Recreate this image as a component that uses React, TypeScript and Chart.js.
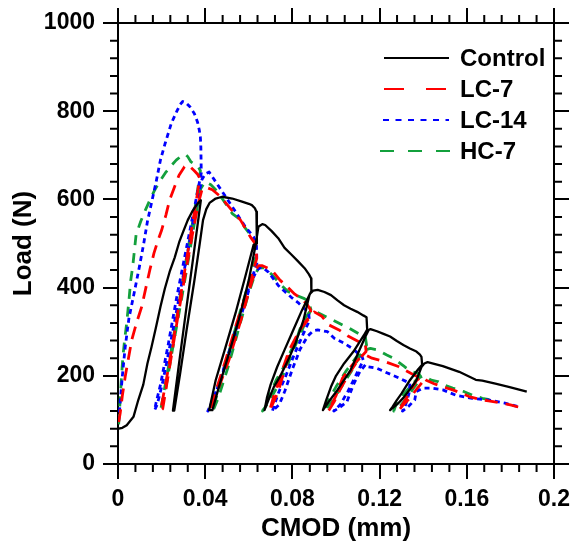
import React, { useEffect, useRef } from "react";
import { Chart, registerables } from "chart.js";

Chart.register(...registerables);

const FONT = "'Liberation Sans', Arial, Helvetica, sans-serif";

const seriesNames = ["Control", "LC-7", "LC-14", "HC-7"];
const seriesColors = ["#000000", "#ff0000", "#0000ff", "#13a03c"];
const xTickLabels = ["0", "0.04", "0.08", "0.12", "0.16", "0.2"];
const yTickLabels = ["0", "200", "400", "600", "800", "1000"];

// Control (solid black)
const controlCmod = [
  0.0003, 0.002, 0.004, 0.0071, 0.0093, 0.0116, 0.0135, 0.0154, 0.0175, 0.0195, 0.0215, 0.0237, 0.026, 0.0282, 0.03, 0.032, 0.034, 0.0357, 0.0373, 0.038,
  0.0345, 0.031, 0.028, 0.0252,
  0.0258, 0.0285, 0.0315, 0.035, 0.0375, 0.039, 0.0405, 0.042, 0.0448, 0.0478, 0.0524, 0.0569, 0.06, 0.0614, 0.0628, 0.0635, 0.0637,
  0.0622, 0.0584, 0.0539, 0.0494, 0.0448, 0.0426, 0.0418,
  0.0433, 0.0463, 0.0509, 0.0554, 0.06, 0.063, 0.0644, 0.0662, 0.0675, 0.0705, 0.0735, 0.0764, 0.0795, 0.0825, 0.0856, 0.0876, 0.0886, 0.0887,
  0.0845, 0.0805, 0.0765, 0.073, 0.07, 0.0683, 0.0672,
  0.069, 0.0715, 0.0745, 0.078, 0.0815, 0.085, 0.0879, 0.0895, 0.0916, 0.0947, 0.0977, 0.1007, 0.1037, 0.1067, 0.1097, 0.1125, 0.114, 0.1143,
  0.1128, 0.108, 0.1037, 0.1, 0.0977, 0.0955, 0.094,
  0.0965, 0.1007, 0.1067, 0.11, 0.1135, 0.115, 0.1158, 0.1188, 0.1218, 0.1248, 0.1279, 0.1309, 0.1339, 0.1369, 0.1385, 0.1392, 0.1395,
  0.1377, 0.1339, 0.1301, 0.1279, 0.126, 0.1248,
  0.128, 0.1309, 0.134, 0.1369, 0.1392, 0.1405, 0.142, 0.149, 0.1565, 0.1641, 0.1671, 0.1731, 0.1792, 0.1875,
];
const controlLoad = [
  80, 82, 88, 107, 145, 180, 228, 266, 312, 357, 398, 436, 468, 505, 528, 553, 572, 585, 595, 598,
  468, 340, 228, 121,
  121, 205, 305, 415, 500, 553, 578, 592, 602, 606, 602, 595, 590, 587, 580, 572, 500,
  497, 425, 342, 266, 190, 140, 122,
  122, 175, 251, 327, 417, 493, 538, 544, 542, 528, 512, 490, 475, 460, 444, 430, 421, 392,
  350, 305, 260, 220, 180, 150, 122,
  145, 175, 200, 235, 275, 325, 385, 393, 395, 390, 383, 371, 360, 352, 345, 337, 333, 305,
  292, 255, 228, 200, 175, 145, 122,
  140, 168, 213, 250, 289, 304, 306, 301, 295, 289, 279, 270, 262, 255, 248, 243, 225,
  215, 190, 160, 145, 130, 122,
  135, 150, 170, 190, 220, 228, 231, 222, 209, 191, 189, 182, 175, 164,
];

// LC-7 (red long dash)
const lc7Cmod = [
  0.0003, 0.001, 0.002, 0.0033, 0.0048, 0.0063, 0.0085, 0.0109, 0.0128, 0.0146, 0.0165, 0.0184, 0.02, 0.022, 0.0237, 0.026, 0.028, 0.0305, 0.032, 0.0335, 0.035, 0.0365, 0.0375,
  0.036, 0.033, 0.0295, 0.026, 0.0225, 0.0195,
  0.0205, 0.024, 0.0275, 0.031, 0.0343, 0.0368, 0.0385, 0.04, 0.0433, 0.0471, 0.0531, 0.0562, 0.0607, 0.0632, 0.0636,
  0.06, 0.0546, 0.0494, 0.0455, 0.042,
  0.0445, 0.0509, 0.056, 0.06, 0.063, 0.0645, 0.066, 0.0705, 0.0743, 0.078, 0.0811, 0.0848, 0.087, 0.0883, 0.0885,
  0.0835, 0.0785, 0.0745, 0.0715, 0.0695,
  0.0735, 0.0765, 0.0795, 0.0848, 0.088, 0.09, 0.0935, 0.0969, 0.1014, 0.1055, 0.1105, 0.1135, 0.1138,
  0.11, 0.106, 0.102, 0.099, 0.0965,
  0.1, 0.103, 0.1075, 0.111, 0.114, 0.1165, 0.1226, 0.1286, 0.1345, 0.1385, 0.1395,
  0.137, 0.134, 0.131, 0.1285,
  0.1309, 0.134, 0.137, 0.1395, 0.1414, 0.145, 0.149, 0.1535, 0.158, 0.161, 0.1656, 0.17, 0.1754, 0.18, 0.1845,
];
const lc7Load = [
  95, 115, 155, 198, 240, 281, 320, 357, 400, 440, 478, 508, 530, 565, 599, 629, 655, 674, 678, 672, 665, 657, 648,
  600, 510, 405, 300, 200, 120,
  125, 230, 335, 435, 525, 590, 622, 628, 622, 606, 570, 553, 515, 498, 465,
  405, 322, 236, 175, 120,
  150, 236, 320, 390, 440, 450, 450, 440, 417, 400, 385, 372, 360, 350, 335,
  305, 258, 200, 155, 120,
  164, 215, 265, 315, 335, 345, 335, 315, 304, 290, 277, 270, 255,
  235, 205, 170, 140, 120,
  155, 195, 225, 240, 246, 240, 232, 221, 205, 195, 185,
  170, 150, 135, 120,
  138, 165, 190, 198, 190, 182, 175, 168, 160, 153, 147, 143, 139, 134, 128,
];

// LC-14 (blue dotted)
const lc14Cmod = [
  0.0003, 0.001, 0.002, 0.0033, 0.005, 0.0075, 0.0098, 0.0118, 0.0135, 0.0155, 0.0175, 0.0195, 0.0215, 0.0245, 0.027, 0.0285, 0.0297, 0.031, 0.033, 0.035, 0.0365, 0.0373, 0.0378, 0.038, 0.0381, 0.0382,
  0.035, 0.031, 0.027, 0.023, 0.0195, 0.0175, 0.0168,
  0.018, 0.0205, 0.0245, 0.0285, 0.0325, 0.036, 0.0385, 0.04, 0.0418, 0.0448, 0.0494, 0.0539, 0.0584, 0.0622, 0.0635, 0.0637,
  0.06, 0.0555, 0.051, 0.0465, 0.0435, 0.0412,
  0.044, 0.048, 0.0525, 0.057, 0.061, 0.0635, 0.065, 0.0665, 0.069, 0.0735, 0.0765, 0.0795, 0.0826, 0.086, 0.0875, 0.0878,
  0.085, 0.081, 0.077, 0.0735, 0.0708,
  0.074, 0.0765, 0.08, 0.0835, 0.087, 0.0895, 0.0916, 0.0961, 0.0992, 0.1037, 0.1075, 0.112, 0.1125,
  0.109, 0.1055, 0.102, 0.099,
  0.1022, 0.105, 0.108, 0.111, 0.1135, 0.1143, 0.1188, 0.1233, 0.1294, 0.1339,
  0.1335, 0.132, 0.1305,
  0.1331, 0.1361, 0.1368, 0.1398, 0.1437, 0.149, 0.155, 0.1625, 0.1701, 0.1775, 0.1837,
];
const lc14Load = [
  97, 140, 200, 265, 330, 390, 447, 500, 550, 595, 640, 690, 725, 773, 800, 815, 822, 820, 810, 795, 775, 757, 740, 720, 690, 660,
  580, 480, 380, 270, 180, 140, 122,
  135, 185, 285, 390, 495, 590, 645, 658, 662, 640, 606, 572, 538, 515, 500, 455,
  400, 330, 255, 185, 145, 120,
  150, 205, 275, 345, 410, 438, 445, 445, 435, 405, 391, 378, 366, 350, 340, 325,
  295, 250, 200, 160, 120,
  135, 165, 215, 260, 290, 302, 304, 300, 285, 274, 262, 243, 235,
  200, 165, 135, 120,
  130, 141, 180, 210, 225, 221, 217, 207, 194, 183,
  160, 135, 120,
  130, 145, 164, 172, 172, 168, 156, 149, 145, 138, 130,
];

// HC-7 (green dash)
const hc7Cmod = [
  0.0003, 0.0008, 0.0015, 0.0022, 0.003, 0.004, 0.005, 0.0058, 0.0068, 0.0083, 0.0104, 0.0125, 0.0146, 0.0167, 0.0192, 0.0217, 0.0245, 0.0267, 0.0297, 0.0312, 0.032, 0.0335, 0.035, 0.0365, 0.0378,
  0.035, 0.0315, 0.0275, 0.0235, 0.0195,
  0.0215, 0.025, 0.029, 0.0325, 0.0355, 0.038, 0.04, 0.0426, 0.0456, 0.0524, 0.0554, 0.0584, 0.0614, 0.063, 0.0635,
  0.0605, 0.056, 0.0515, 0.047, 0.0435,
  0.046, 0.0505, 0.055, 0.0595, 0.0625, 0.0645, 0.067, 0.0705, 0.075, 0.078, 0.082, 0.0855, 0.0875, 0.0885,
  0.085, 0.081, 0.077, 0.0725, 0.069, 0.0663,
  0.069, 0.0725, 0.0765, 0.0788, 0.0818, 0.0833, 0.0863, 0.0879, 0.0909, 0.0954, 0.0984, 0.103, 0.106, 0.1112, 0.1135, 0.114,
  0.111, 0.107, 0.1025, 0.098, 0.0945,
  0.0961, 0.1, 0.1045, 0.109, 0.113, 0.1158, 0.1188, 0.1233, 0.1263, 0.1316, 0.1346, 0.138, 0.1392,
  0.136, 0.1325, 0.1295, 0.1265,
  0.1279, 0.1301, 0.134, 0.137, 0.1399, 0.1437, 0.1467, 0.149, 0.1535, 0.1588, 0.1626, 0.1671, 0.1716,
];
const hc7Load = [
  90, 130, 190, 240, 280, 320, 370, 415, 450, 520, 550, 575, 598, 620, 641, 660, 677, 689, 701, 701, 697, 685, 680, 677, 665,
  570, 470, 350, 230, 120,
  160, 260, 370, 470, 560, 625, 640, 633, 618, 568, 557, 535, 515, 500, 475,
  420, 345, 265, 190, 120,
  150, 220, 300, 380, 425, 445, 445, 430, 405, 391, 382, 375, 368, 350,
  310, 265, 215, 170, 140, 120,
  150, 190, 224, 251, 281, 304, 334, 345, 345, 334, 327, 315, 308, 293, 287, 270,
  245, 210, 175, 140, 120,
  141, 175, 210, 240, 258, 262, 259, 247, 240, 220, 210, 205, 195,
  175, 150, 132, 120,
  140, 153, 175, 192, 200, 190, 187, 180, 172, 164, 156, 149, 145,
];

const plotDashes: number[][] = [[], [13, 8], [5, 4], [10, 8]];
const plotWidths = [2.3, 2.8, 2.8, 2.8];
const legendDashes: number[][] = [[], [20, 22], [6, 6.5], [14, 14]];

function toPoints(xs: number[], ys: number[]) {
  return xs.map((x, i) => ({ x, y: ys[i] }));
}

const minorTicksAndLegend = {
  id: "minorTicksAndLegend",
  afterDraw(chart: any) {
    const { ctx, chartArea: a, scales } = chart;
    ctx.save();
    ctx.strokeStyle = "#000";
    ctx.lineWidth = 2;
    ctx.setLineDash([]);
    ctx.beginPath();
    for (let i = 1; i < 25; i++) {
      if (i % 5 === 0) continue;
      const px = scales.x.getPixelForValue(i * 0.008);
      ctx.moveTo(px, a.bottom);
      ctx.lineTo(px, a.bottom + 8);
      ctx.moveTo(px, a.top);
      ctx.lineTo(px, a.top - 8);
      const py = scales.y.getPixelForValue(i * 40);
      ctx.moveTo(a.left, py);
      ctx.lineTo(a.left - 8, py);
      ctx.moveTo(a.right, py);
      ctx.lineTo(a.right + 8, py);
    }
    ctx.stroke();

    // legend
    const rows = [58, 89, 120, 151];
    const starts = [384, 384, 383, 380];
    const ends = [449, 449, 449, 450];
    ctx.font = `bold 24px ${FONT}`;
    ctx.textBaseline = "middle";
    ctx.textAlign = "left";
    for (let i = 0; i < seriesNames.length; i++) {
      ctx.beginPath();
      ctx.strokeStyle = seriesColors[i];
      ctx.lineWidth = 2;
      ctx.setLineDash(legendDashes[i]);
      ctx.moveTo(starts[i], rows[i]);
      ctx.lineTo(ends[i], rows[i]);
      ctx.stroke();
      ctx.setLineDash([]);
      ctx.fillStyle = "#000";
      ctx.fillText(seriesNames[i], 460, rows[i] + 1);
    }
    ctx.restore();
  },
};

export default function App() {
  const ref = useRef<HTMLCanvasElement | null>(null);

  useEffect(() => {
    if (!ref.current) return;
    const data = [
      toPoints(controlCmod, controlLoad),
      toPoints(lc7Cmod, lc7Load),
      toPoints(lc14Cmod, lc14Load),
      toPoints(hc7Cmod, hc7Load),
    ];
    const tickFont = { family: FONT, size: 23, weight: "bold" as const };
    const titleFont = { family: FONT, size: 26, weight: "bold" as const };
    const grid = {
      display: true,
      drawOnChartArea: false,
      drawTicks: true,
      tickLength: 15,
      tickWidth: 2,
      tickColor: "#000",
      color: "#000",
      lineWidth: 2,
    };
    const border = { display: true, width: 2, color: "#000" };
    const chart = new Chart(ref.current, {
      type: "scatter",
      data: {
        datasets: data.map((d, i) => ({
          label: seriesNames[i],
          data: d,
          showLine: true,
          borderColor: seriesColors[i],
          backgroundColor: seriesColors[i],
          borderWidth: plotWidths[i],
          borderDash: plotDashes[i],
          borderJoinStyle: "round" as const,
          pointRadius: 0,
          pointHoverRadius: 0,
          tension: 0,
          fill: false,
        })),
      },
      options: {
        responsive: false,
        animation: false,
        devicePixelRatio: 1,
        layout: { padding: 0 },
        plugins: {
          legend: { display: false },
          tooltip: { enabled: false },
        },
        scales: {
          x: {
            type: "linear",
            position: "bottom",
            min: 0,
            max: 0.2,
            grid,
            border,
            ticks: {
              stepSize: 0.04,
              font: tickFont,
              color: "#000",
              padding: 7,
              maxRotation: 0,
              autoSkip: false,
              callback: (v: any) => {
                const idx = Math.round(Number(v) / 0.04);
                return xTickLabels[idx] ?? "";
              },
            },
            title: {
              display: true,
              text: "CMOD (mm)",
              font: titleFont,
              color: "#000",
              padding: { top: 0, bottom: 2 },
            },
            afterFit: (s: any) => {
              s.height = 82;
            },
          },
          x2: {
            type: "linear",
            position: "top",
            min: 0,
            max: 0.2,
            grid,
            border,
            ticks: { stepSize: 0.04, display: false },
            afterFit: (s: any) => {
              s.height = 23;
            },
          },
          y: {
            type: "linear",
            position: "left",
            min: 0,
            max: 1000,
            grid,
            border,
            ticks: {
              stepSize: 200,
              font: tickFont,
              color: "#000",
              padding: 8,
              autoSkip: false,
              callback: (v: any) => {
                const idx = Math.round(Number(v) / 200);
                return yTickLabels[idx] ?? "";
              },
            },
            title: {
              display: true,
              text: "Load (N)",
              font: titleFont,
              color: "#000",
              padding: { top: 8, bottom: 0 },
            },
            afterFit: (s: any) => {
              s.width = 118;
            },
          },
          y2: {
            type: "linear",
            position: "right",
            min: 0,
            max: 1000,
            grid,
            border,
            ticks: { stepSize: 200, display: false },
            afterFit: (s: any) => {
              s.width = 18;
            },
          },
        },
      },
      plugins: [minorTicksAndLegend],
    });
    return () => chart.destroy();
  }, []);

  return (
    <div style={{ position: "fixed", left: 0, top: 0, width: 577, height: 546, background: "#fff" }}>
      <canvas ref={ref} width={577} height={546} style={{ width: 577, height: 546, display: "block" }} />
    </div>
  );
}
